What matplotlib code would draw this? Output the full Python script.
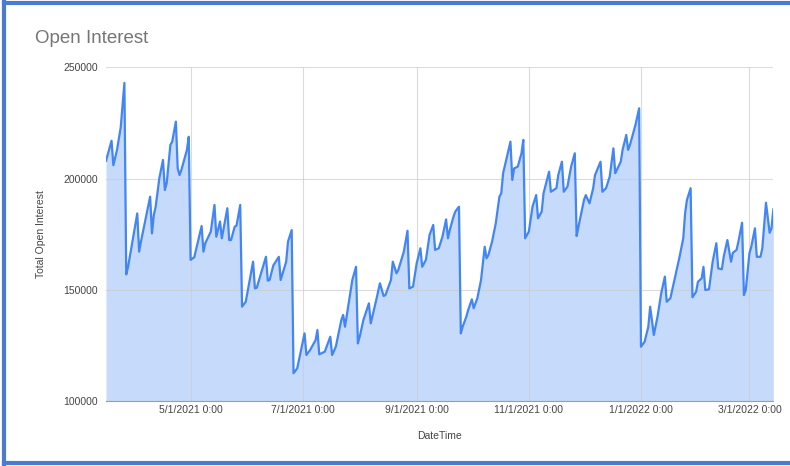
"""
Open Interest area chart (Google Sheets look)
---------------------------------------------
Redraws the 'Open Interest' chart: total open interest per day,
filled area under a blue line, saved as out.png.
"""

from __future__ import annotations

import pandas as pd
import matplotlib.pyplot as plt
from matplotlib.lines import Line2D


# ----------------------------
# Data
# ----------------------------
DATES = [
    "2021-03-16", "2021-03-19", "2021-03-20", "2021-03-22", "2021-03-24", "2021-03-26", "2021-03-27", "2021-03-28",
    "2021-04-02", "2021-04-03", "2021-04-04", "2021-04-09", "2021-04-10", "2021-04-11", "2021-04-12", "2021-04-14",
    "2021-04-16", "2021-04-17", "2021-04-18", "2021-04-20", "2021-04-21", "2021-04-23", "2021-04-24", "2021-04-25",
    "2021-04-26", "2021-04-29", "2021-04-30",
    "2021-05-01", "2021-05-03", "2021-05-07", "2021-05-08", "2021-05-09", "2021-05-12", "2021-05-14", "2021-05-15",
    "2021-05-17", "2021-05-18", "2021-05-21", "2021-05-22", "2021-05-23", "2021-05-25", "2021-05-26", "2021-05-28",
    "2021-05-29", "2021-05-31",
    "2021-06-04", "2021-06-05", "2021-06-06", "2021-06-11", "2021-06-12", "2021-06-13", "2021-06-15", "2021-06-18",
    "2021-06-19", "2021-06-22", "2021-06-23", "2021-06-25", "2021-06-26", "2021-06-28",
    "2021-07-02", "2021-07-03", "2021-07-05", "2021-07-08", "2021-07-09", "2021-07-10", "2021-07-13", "2021-07-16",
    "2021-07-17", "2021-07-19", "2021-07-22", "2021-07-23", "2021-07-24", "2021-07-25", "2021-07-28", "2021-07-30",
    "2021-07-31",
    "2021-08-01", "2021-08-03", "2021-08-06", "2021-08-07", "2021-08-10", "2021-08-12", "2021-08-14", "2021-08-15",
    "2021-08-18", "2021-08-19", "2021-08-21", "2021-08-22", "2021-08-25", "2021-08-27", "2021-08-28", "2021-08-30",
    "2021-09-01", "2021-09-03", "2021-09-04", "2021-09-06", "2021-09-08", "2021-09-10", "2021-09-11", "2021-09-13",
    "2021-09-15", "2021-09-17", "2021-09-18", "2021-09-19", "2021-09-21", "2021-09-22", "2021-09-24", "2021-09-25",
    "2021-09-26", "2021-09-28", "2021-09-29",
    "2021-10-01", "2021-10-02", "2021-10-04", "2021-10-06", "2021-10-08", "2021-10-09", "2021-10-10", "2021-10-12",
    "2021-10-14", "2021-10-16", "2021-10-17", "2021-10-18", "2021-10-22", "2021-10-23", "2021-10-24", "2021-10-26",
    "2021-10-28", "2021-10-29", "2021-10-30",
    "2021-11-01", "2021-11-03", "2021-11-05", "2021-11-06", "2021-11-08", "2021-11-09", "2021-11-12", "2021-11-13",
    "2021-11-16", "2021-11-17", "2021-11-19", "2021-11-20", "2021-11-22", "2021-11-24", "2021-11-26", "2021-11-27",
    "2021-11-28",
    "2021-12-01", "2021-12-02", "2021-12-04", "2021-12-06", "2021-12-07", "2021-12-10", "2021-12-11", "2021-12-13",
    "2021-12-15", "2021-12-17", "2021-12-18", "2021-12-21", "2021-12-22", "2021-12-24", "2021-12-25", "2021-12-26",
    "2021-12-29", "2021-12-31",
    "2022-01-01", "2022-01-03", "2022-01-05", "2022-01-06", "2022-01-08", "2022-01-10", "2022-01-12", "2022-01-14",
    "2022-01-15", "2022-01-17", "2022-01-19", "2022-01-22", "2022-01-24", "2022-01-25", "2022-01-26", "2022-01-28",
    "2022-01-29", "2022-01-31",
    "2022-02-01", "2022-02-03", "2022-02-04", "2022-02-05", "2022-02-07", "2022-02-09", "2022-02-11", "2022-02-12",
    "2022-02-14", "2022-02-15", "2022-02-17", "2022-02-19", "2022-02-20", "2022-02-22", "2022-02-23", "2022-02-25",
    "2022-02-26", "2022-02-27",
    "2022-03-01", "2022-03-02", "2022-03-04", "2022-03-05", "2022-03-07", "2022-03-08", "2022-03-10", "2022-03-12",
    "2022-03-13", "2022-03-14",
]

OPEN_INTEREST = [
    208000, 217000, 206000, 213000, 223000, 243000, 157000, 160400,
    184400, 167200, 171700, 191900, 175400, 183700, 187400, 200200,
    208400, 194900, 197900, 215100, 216600, 225600, 204600, 201600,
    203900, 212900, 218800,
    163500, 164700, 178700, 167200, 171000, 176200, 188200, 173900,
    180700, 173200, 186700, 172400, 172400, 178400, 178900, 188200,
    142500, 144700,
    162700, 150700, 151000, 164900, 154200, 154500, 161000, 164900,
    154500, 162700, 171700, 176900, 112600, 114800,
    130500, 120800, 123000, 127500, 132000, 121100, 122300, 129000,
    120800, 124500, 136500, 138800, 133500, 138800, 154500, 160400,
    126000,
    129000, 136500, 144000, 135000, 145500, 153000, 147300, 147700,
    154500, 162700, 157500, 159000, 167200, 176600, 150700, 151500,
    162000, 168700, 160400, 163500, 174700, 179200, 168000, 168700,
    173900, 181700, 173200, 176900, 182900, 185200, 187400, 130500,
    133500, 138000, 141000,
    145800, 141800, 146300, 154500, 169400, 164200, 165700, 171700,
    179900, 191900, 193400, 202400, 216600, 199400, 204600, 205400,
    211400, 217400, 173200,
    176200, 187400, 192600, 182200, 185200, 193400, 203100, 194100,
    195700, 201600, 207600, 194100, 196400, 205400, 211400, 174200,
    178400,
    190400, 192600, 188900, 195700, 201600, 207600, 194100, 195700,
    200900, 213600, 202400, 207600, 212900, 219600, 212900, 215100,
    224100, 231600,
    124500, 126800, 133500, 142500, 129800, 138000, 148500, 156000,
    144700, 146300, 153700, 164900, 173200, 184400, 190400, 195700,
    146700, 149200,
    153700, 155200, 160400, 150000, 150300, 162700, 171000, 159700,
    159300, 164900, 172400, 162700, 166700, 168000, 171700, 180200,
    147700, 150000,
    166500, 169400, 177700, 164900, 164900, 168700, 189200, 175700,
    177700, 186200,
]

X_TICKS = ["2021-05-01", "2021-07-01", "2021-09-01", "2021-11-01", "2022-01-01", "2022-03-01"]
X_TICK_LABELS = ["5/1/2021 0:00", "7/1/2021 0:00", "9/1/2021 0:00",
                 "11/1/2021 0:00", "1/1/2022 0:00", "3/1/2022 0:00"]
Y_TICKS = [100000, 150000, 200000, 250000]


# ----------------------------
# Style
# ----------------------------
LINE_COLOR = "#4285f4"
FILL_COLOR = "#c6dafc"
GRID_COLOR = "#cccccc"
TEXT_COLOR = "#444444"
TITLE_COLOR = "#757575"
BORDER_COLOR = "#4a7bd3"


def main() -> None:
    plt.rcParams["font.family"] = ["Liberation Sans", "DejaVu Sans"]

    df = pd.DataFrame({"date": pd.to_datetime(DATES), "oi": OPEN_INTEREST})

    fig = plt.figure(figsize=(7.9, 4.66), dpi=100)
    ax = fig.add_axes([0.1342, 0.1388, 0.8447, 0.7168])

    ax.fill_between(df["date"], 100000, df["oi"], color=FILL_COLOR, lw=0, zorder=2)
    ax.plot(df["date"], df["oi"], color=LINE_COLOR, lw=1.6, zorder=3)

    ax.set_xlim(pd.Timestamp("2021-03-16"), pd.Timestamp("2022-03-14"))
    ax.set_ylim(100000, 250000)

    ax.set_xticks(pd.to_datetime(X_TICKS))
    ax.set_xticklabels(X_TICK_LABELS)
    ax.set_yticks(Y_TICKS)
    ax.set_yticklabels([str(v) for v in Y_TICKS])
    ax.tick_params(axis="x", length=0, labelsize=7.5, colors=TEXT_COLOR, pad=3)
    ax.tick_params(axis="y", length=0, labelsize=7.5, colors=TEXT_COLOR, pad=6)

    # gridlines drawn over the fill, faint like the sheet export
    ax.grid(True, color=GRID_COLOR, lw=0.8, zorder=4)
    ax.set_axisbelow(False)
    for g in ax.get_xgridlines() + ax.get_ygridlines():
        g.set_alpha(0.7)

    for side in ["top", "right", "left"]:
        ax.spines[side].set_visible(False)
    ax.spines["bottom"].set_color("#9e9e9e")
    ax.spines["bottom"].set_linewidth(0.8)

    ax.set_xlabel("DateTime", fontsize=7.5, color=TEXT_COLOR, labelpad=11)
    ax.set_ylabel("Total Open Interest", fontsize=7.5, color=TEXT_COLOR, labelpad=12)

    fig.text(0.044, 0.918, "Open Interest", fontsize=13.5, color=TITLE_COLOR,
             ha="left", va="center")

    # blue frame around the screenshot (left, top, bottom)
    frame = dict(color=BORDER_COLOR, lw=3, transform=fig.transFigure, clip_on=False)
    fig.add_artist(Line2D([0.005, 0.005], [0.003, 0.995], **frame))
    fig.add_artist(Line2D([0.005, 1.0], [0.993, 0.993], **frame))
    fig.add_artist(Line2D([0.005, 1.0], [0.007, 0.007], **frame))

    fig.savefig("out.png", dpi=100)
    plt.close(fig)


if __name__ == "__main__":
    main()
